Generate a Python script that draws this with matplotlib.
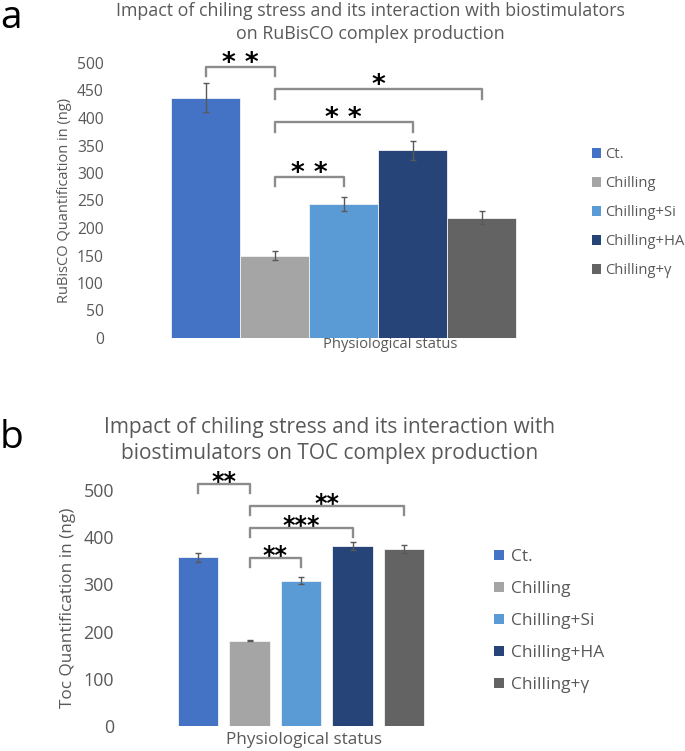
import matplotlib
matplotlib.use('Agg')
import matplotlib.pyplot as plt

W, H, DPI = 685, 751, 100
FONT = 'Open Sans'
TXT = '#595959'
plt.rcParams['font.family'] = [FONT, 'DejaVu Sans']

# ---------------- data ----------------
categories = ['Ct.', 'Chilling', 'Chilling+Si', 'Chilling+HA', 'Chilling+γ']
colors = ['#4472C4', '#A5A5A5', '#5B9BD5', '#264478', '#636363']

rubisco_vals = [437, 150, 244, 341, 219]
rubisco_err = [26, 8, 12.5, 17.5, 11.5]
rubisco_ticks = [0, 50, 100, 150, 200, 250, 300, 350, 400, 450, 500]

toc_vals = [357, 181, 308, 381, 374]
toc_err = [8.5, 1, 8, 9, 8.5]
toc_ticks = [0, 100, 200, 300, 400, 500]

# significance brackets: (from category, to category, bracket height, stars)
rubisco_sig = [(0, 1, 493, '* *'), (1, 4, 452, '*'), (1, 3, 392, '* *'), (1, 2, 293, '* *')]
toc_sig = [(0, 1, 513, '**'), (1, 4, 466, '**'), (1, 3, 419.5, '***'), (1, 2, 356, '**')]

title_a = ['Impact of chiling stress and its interaction with biostimulators',
           'on RuBisCO complex production']
title_b = ['Impact of chiling stress and its interaction with',
           'biostimulators on TOC complex production']
ylabel_a = 'RuBisCO Quantification in (ng)'
ylabel_b = 'Toc Quantification in (ng)'
xlabel = 'Physiological status'

# ---------------- helpers ----------------
fig = plt.figure(figsize=(W / DPI, H / DPI), dpi=DPI)
renderer = fig.canvas.get_renderer()


def measure(s, size, family=FONT):
    t = fig.text(0, 0, s, fontsize=size, family=family)
    bb = t.get_window_extent(renderer)
    t.remove()
    return bb.width, bb.height


def fit(s, target, family=FONT):
    w, _ = measure(s, 10, family)
    return 10 * target / w


def fx(x):
    return x / W


def fy(y):
    return 1 - y / H


def panel(rect, ppu, first_center, vals, errs, width, ticks, tick_fs, pad):
    l, t, r, b = rect
    ax = fig.add_axes([fx(l), fy(b), (r - l) / W, (b - t) / H])
    x = list(range(len(vals)))
    bars = ax.bar(x, vals, width=width, color=colors, edgecolor='#f2f2f2',
                  linewidth=0.6, zorder=2)
    ax.errorbar(x, vals, yerr=errs, fmt='none', ecolor='#595959',
                elinewidth=1.0, capsize=2.4, capthick=1.0, zorder=3)
    lo = -(first_center - l) / ppu
    ax.set_xlim(lo, lo + (r - l) / ppu)
    ax.set_ylim(ticks[0], ticks[-1])
    ax.set_yticks(ticks)
    ax.set_xticks([])
    for s in ax.spines.values():
        s.set_visible(False)
    ax.tick_params(axis='y', length=0, pad=pad, labelsize=tick_fs, labelcolor=TXT)
    for lab in ax.get_yticklabels():
        lab.set_family(FONT)
    return ax, bars


def brackets(ax, sigs, rect, leg_px, star_fs, base_px):
    l, t, r, b = rect
    lo, hi = ax.get_ylim()
    upp = (hi - lo) / (b - t)
    for i, j, top, lab in sigs:
        leg = leg_px * upp
        ax.plot([i, i, j, j], [top - leg, top, top, top - leg], color='#8c8c8c',
                lw=1.7, clip_on=False, solid_joinstyle='round', zorder=4)
        ax.annotate(lab, xy=((i + j) / 2, top), xytext=(0, -base_px * 72 / DPI),
                    textcoords='offset points', ha='center', va='baseline',
                    fontsize=star_fs, family='DejaVu Sans', fontweight='bold',
                    color='black', annotation_clip=False)


def legend(ax, bars, sq_left, first_center, pitch, sq_px, gap_px, fs):
    fs_px = fs * DPI / 72
    _, h = measure('Chilling+HA', fs)
    handles = list(bars.patches)
    leg = ax.legend(handles, categories, loc='upper left',
                    bbox_to_anchor=(fx(sq_left), fy(first_center - h / 2)),
                    bbox_transform=fig.transFigure, frameon=False,
                    handlelength=sq_px / fs_px, handleheight=sq_px / fs_px,
                    handletextpad=gap_px / fs_px,
                    labelspacing=(pitch - h) / fs_px,
                    borderpad=0, borderaxespad=0,
                    prop={'family': FONT, 'size': fs})
    for txt in leg.get_texts():
        txt.set_color(TXT)
    for p in leg.get_patches():
        p.set_edgecolor('none')
    return leg


# ---------------- panel a ----------------
rect_a = (110, 63, 545, 338)
ax_a, bars_a = panel(rect_a, 69, 205.5, rubisco_vals, rubisco_err, 1.0,
                     rubisco_ticks, fit('500', 27), 4.5)
brackets(ax_a, rubisco_sig, rect_a, 9.5, 19, 4)
legend(ax_a, bars_a, 592, 154.5, 29, 9, 4, fit('Chilling+HA', 79))

fs_ya = fit(ylabel_a, 206)
ax_a.set_ylabel(ylabel_a, fontsize=fs_ya, color=TXT, family=FONT, va='center')
ax_a.yaxis.set_label_coords((64 - 110) / 435, 0.5)
fs_xa = fit(xlabel, 134)
ax_a.set_xlabel(xlabel, fontsize=fs_xa, color=TXT, family=FONT, va='center')
ax_a.xaxis.set_label_coords((390 - 110) / 435, (338 - 345) / 275)

fs_ta = fit(title_a[0], 510)
fig.text(fx(370), fy(11), title_a[0], ha='center', va='center', fontsize=fs_ta, color=TXT)
fig.text(fx(370), fy(34), title_a[1], ha='center', va='center', fontsize=fs_ta, color=TXT)
fig.text(fx(0), fy(28), 'a', ha='left', va='baseline', fontsize=28, color='black')

# ---------------- panel b ----------------
rect_b = (120, 490, 470, 726)
ax_b, bars_b = panel(rect_b, 51.5, 198, toc_vals, toc_err, 0.786,
                     toc_ticks, fit('500', 31), 4.3)
brackets(ax_b, toc_sig, rect_b, 9, 17, 4.8)
legend(ax_b, bars_b, 494, 557, 32, 10, 7, fit('Chilling+HA', 93))

fs_yb = fit(ylabel_b, 200)
ax_b.set_ylabel(ylabel_b, fontsize=fs_yb, color=TXT, family=FONT, va='center')
ax_b.yaxis.set_label_coords((68 - 120) / 350, 0.5)
fs_xb = fit(xlabel, 156)
ax_b.set_xlabel(xlabel, fontsize=fs_xb, color=TXT, family=FONT, va='center')
ax_b.xaxis.set_label_coords((304 - 120) / 350, (726 - 740) / 236)

fs_tb = fit(title_b[0], 454)
fig.text(fx(330), fy(428), title_b[0], ha='center', va='center', fontsize=fs_tb, color=TXT)
fig.text(fx(330), fy(454), title_b[1], ha='center', va='center', fontsize=fs_tb, color=TXT)
fig.text(fx(0), fy(448), 'b', ha='left', va='baseline', fontsize=28, color='black')

fig.savefig('out.png', dpi=DPI, facecolor='white')
